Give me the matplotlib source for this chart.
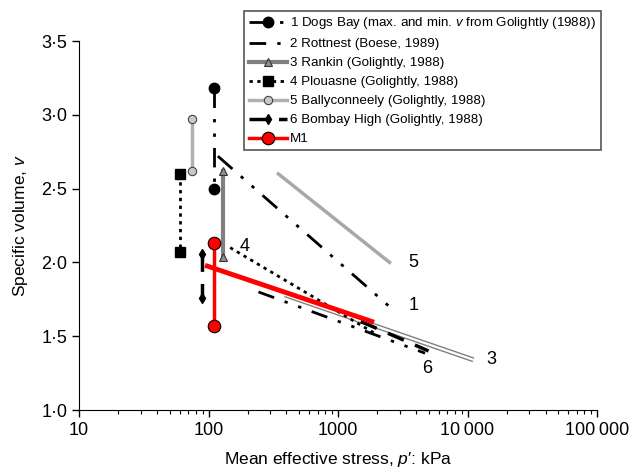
"""
Specific volume vs mean effective stress for carbonate sands
"""

import matplotlib
matplotlib.use('Agg')
import matplotlib.pyplot as plt
from matplotlib.ticker import FixedLocator, FixedFormatter, LogLocator, NullFormatter

plt.rcParams['font.family'] = ['Liberation Sans', 'DejaVu Sans']
plt.rcParams['mathtext.fontset'] = 'custom'
plt.rcParams['mathtext.rm'] = 'Liberation Sans'
plt.rcParams['mathtext.it'] = 'Liberation Sans:italic'

# vertical segments (max/min v at one stress) and compression lines
dogs_p = [110, 110]
dogs_v = [3.18, 2.50]
dogs_line_p = [118, 2500]
dogs_line_v = [2.72, 1.70]

rottnest_line_p = [243, 4700]
rottnest_line_v = [1.80, 1.385]

rankin_p = [129, 129]
rankin_v = [2.62, 2.04]
rankin_line_p = [390, 11100]
rankin_line_v = [1.78, 1.34]

plouasne_p = [60, 60]
plouasne_v = [2.60, 2.07]
plouasne_line_p = [147, 2000]
plouasne_line_v = [2.10, 1.51]

bally_p = [74, 74]
bally_v = [2.97, 2.62]
bally_line_p = [346, 2500]
bally_line_v = [2.60, 2.00]

bombay_p = [88.5, 88.5]
bombay_v = [2.06, 1.76]
bombay_line_p = [1500, 5000]
bombay_line_v = [1.60, 1.40]

m1_p = [110, 110]
m1_v = [2.13, 1.57]
m1_line_p = [98, 1820]
m1_line_v = [1.975, 1.60]

x_ticks = [10, 100, 1000, 10000, 100000]
x_labels = ['10', '100', '1000', '10\u2009000', '100\u2009000']
y_ticks = [1.0, 1.5, 2.0, 2.5, 3.0, 3.5]
y_labels = ['1·0', '1·5', '2·0', '2·5', '3·0', '3·5']

dash_dot_dot = (0, (7, 4, 1.2, 4, 1.2, 4))
rott_dash = (0, (6, 4, 1.2, 4, 1.2, 4))
dotted = (0, (1.2, 1.6))
dashed = (0, (5, 3.5))

fig = plt.figure(figsize=(6.29, 4.71), dpi=100)
ax = fig.add_axes([0.1256, 0.1295, 0.8236, 0.7834])

# 1 Dogs Bay
ax.plot(dogs_p, dogs_v, color='black', lw=2, ls=dash_dot_dot, marker='o', ms=7.5,
        label='1 Dogs Bay (max. and min. $v$ from Golightly (1988))')
ax.plot(dogs_line_p, dogs_line_v, color='black', lw=2, ls=dash_dot_dot)

# 2 Rottnest
ax.plot(rottnest_line_p, rottnest_line_v, color='black', lw=2, ls=rott_dash,
        label='2 Rottnest (Boese, 1989)')

# 3 Rankin
ax.plot(rankin_p, rankin_v, color='#808080', lw=3, marker='^', ms=6,
        mfc='#909090', mec='#333333', mew=0.8, label='3 Rankin (Golightly, 1988)')
ax.plot(rankin_line_p, rankin_line_v, color='#808080', lw=3.6, solid_capstyle='butt')
ax.plot(rankin_line_p, rankin_line_v, color='white', lw=1.6, solid_capstyle='butt')

# 4 Plouasne
ax.plot(plouasne_p, plouasne_v, color='black', lw=2, ls=dotted, marker='s', ms=7.5,
        label='4 Plouasne (Golightly, 1988)')
ax.plot(plouasne_line_p, plouasne_line_v, color='black', lw=2, ls=dotted)

# 5 Ballyconneely
ax.plot(bally_p, bally_v, color='#b0b0b0', lw=2.5, marker='o', ms=6,
        mfc='#c8c8c8', mec='#444444', mew=0.8, label='5 Ballyconneely (Golightly, 1988)')
ax.plot(bally_line_p, bally_line_v, color='#a8a8a8', lw=2.5)

# 6 Bombay High
ax.plot(bombay_p, bombay_v, color='black', lw=2.5, ls=dashed, marker='d', ms=5,
        label='6 Bombay High (Golightly, 1988)')
ax.plot(bombay_line_p, bombay_line_v, color='black', lw=2.5, ls=dashed)

# M1
ax.plot(m1_p, m1_v, color='#ff0000', lw=2.5, marker='o', ms=9,
        mfc='#ff0000', mec='black', mew=0.8, label='M1')
ax.plot(m1_line_p, m1_line_v, color='#ff0000', lw=3.5)

# curve labels
ax.text(3500, 1.71, '1', fontsize=13, va='center')
ax.text(3500, 2.00, '5', fontsize=13, va='center')
ax.text(14000, 1.345, '3', fontsize=13, va='center')
ax.text(175, 2.11, '4', fontsize=13, va='center')
ax.text(4900, 1.28, '6', fontsize=13, va='center', ha='center')

ax.set_xscale('log')
ax.set_xlim(10, 100000)
ax.set_ylim(1.0, 3.5)

ax.xaxis.set_major_locator(FixedLocator(x_ticks))
ax.xaxis.set_major_formatter(FixedFormatter(x_labels))
ax.xaxis.set_minor_locator(LogLocator(base=10, subs=range(2, 10)))
ax.xaxis.set_minor_formatter(NullFormatter())
ax.yaxis.set_major_locator(FixedLocator(y_ticks))
ax.yaxis.set_major_formatter(FixedFormatter(y_labels))

ax.tick_params(which='major', direction='out', length=5, width=1, labelsize=13)
ax.tick_params(which='minor', direction='out', length=3, width=0.8)

ax.spines['top'].set_visible(False)
ax.spines['right'].set_visible(False)

ax.set_xlabel("Mean effective stress, $p$′: kPa", fontsize=12.5, labelpad=8)
ax.set_ylabel('Specific volume, $v$', fontsize=12.5, labelpad=8)

leg = ax.legend(loc='upper left', bbox_to_anchor=(0.388, 0.977),
                bbox_transform=fig.transFigure, fontsize=9.6, fancybox=False,
                edgecolor='#555555', framealpha=1, handlelength=2.9,
                handletextpad=0.2, borderpad=0.35, labelspacing=0.5,
                borderaxespad=0)
leg.get_frame().set_linewidth(1.2)

fig.savefig('out.png', dpi=100)
